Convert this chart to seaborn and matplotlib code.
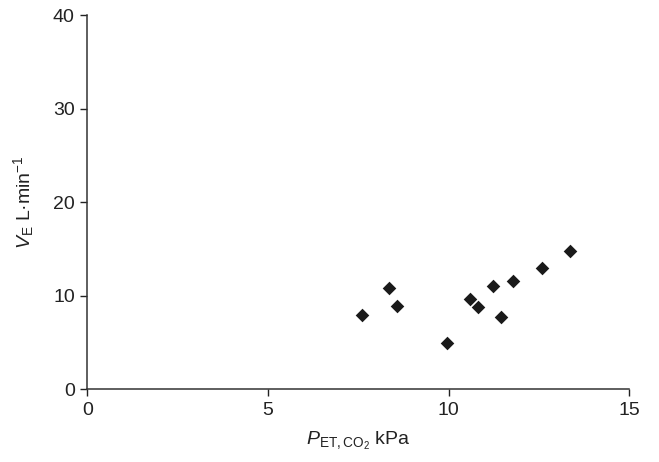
import numpy as np
import pandas as pd
import matplotlib
matplotlib.use('Agg')
import matplotlib.pyplot as plt
import seaborn as sns

# data
pet_co2 = [7.59, 8.36, 8.56, 9.94, 10.58, 10.81, 11.24, 11.46, 11.79, 12.57, 13.35]
ve = [7.9, 10.8, 8.9, 4.9, 9.6, 8.8, 11.0, 7.7, 11.6, 12.9, 14.8]
x_ticks = [0, 5, 10, 15]
y_ticks = [0, 10, 20, 30, 40]

df = pd.DataFrame({'pet': pet_co2, 've': ve})

sns.set_style('ticks')
plt.rcParams['font.family'] = ['Liberation Sans', 'DejaVu Sans']
plt.rcParams['mathtext.fontset'] = 'custom'
plt.rcParams['mathtext.rm'] = 'Liberation Sans'
plt.rcParams['mathtext.it'] = 'Liberation Sans:italic'

fig = plt.figure(figsize=(6.59, 4.62), dpi=100)
ax = fig.add_axes([0.1325, 0.158, 0.8225, 0.8095])

sns.scatterplot(data=df, x='pet', y='ve', marker='D', s=48, color='#1a1a1a',
                linewidth=0, ax=ax)

ax.set_xlim(0, 15)
ax.set_ylim(0, 40)
ax.set_xticks(x_ticks)
ax.set_yticks(y_ticks)
ax.tick_params(direction='out', length=5, width=1, colors='#222222',
               labelsize=14, pad=4)
for s in ['top', 'right']:
    ax.spines[s].set_visible(False)
for s in ['left', 'bottom']:
    ax.spines[s].set_color('#333333')
    ax.spines[s].set_linewidth(1.1)

ax.set_xlabel(r'$\mathit{P}_{\mathrm{ET,CO_2}}$ kPa', fontsize=14, color='#222222', labelpad=8)
ax.set_ylabel(r'$\mathit{V}_{\mathrm{E}}$ L·min$^{-1}$', fontsize=14, color='#222222', labelpad=12)

fig.savefig('out.png', dpi=100)
